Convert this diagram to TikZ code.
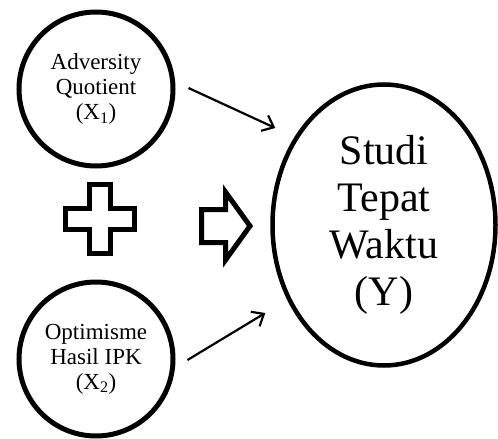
\documentclass[tikz,border=0pt]{standalone}
\usepackage{fontspec}
\setmainfont{Liberation Serif}
\usetikzlibrary{arrows.meta, positioning, shapes.geometric}

\begin{document}
\begin{tikzpicture}[x=1pt, y=-1pt,
    % independent variable circles
    varcirc/.style={circle, draw, line width=5pt, minimum size=154pt, inner sep=0pt,
        align=center, font=\fontsize{23}{25}\selectfont},
    % dependent variable ellipse
    outell/.style={ellipse, draw, line width=4.5pt, minimum width=223pt, minimum height=281pt,
        inner sep=0pt, align=center, font=\fontsize{42}{47}\selectfont},
    % thin influence arrows
    arr/.style={-{Straight Barb[length=10pt, width=17pt]}, line width=2.2pt},
    % outlined plus and block arrow
    symb/.style={draw, line width=5pt}
]
    \useasboundingbox (0,0) rectangle (498,439);

    % X1 (top-left)
    \node[varcirc] (x1) at (96,89) {Adversity\\Quotient\\(X\textsubscript{1})};
    % X2 (bottom-left)
    \node[varcirc] (x2) at (96,359) {Optimisme\\Hasil IPK\\(X\textsubscript{2})};
    % Y (right)
    \node[outell] (y) at (384,225) {Studi\\Tepat\\Waktu\\(Y)};

    % arrows X1 -> Y and X2 -> Y
    \draw[arr] ([shift={(13,-1)}]x1.east) -- ([shift={(5,-97)}]y.west);
    \draw[arr] ([shift={(12,1)}]x2.east) -- ([shift={(-5,88)}]y.west);

    % plus sign between X1 and X2
    \draw[symb, shift={(100,219)}] (-10.5,-34.5) -- (10.5,-34.5) -- (10.5,-10.5) -- (34.5,-10.5)
        -- (34.5,10.5) -- (10.5,10.5) -- (10.5,34.5) -- (-10.5,34.5) -- (-10.5,10.5)
        -- (-34.5,10.5) -- (-34.5,-10.5) -- (-10.5,-10.5) -- cycle;

    % block arrow towards Y
    \draw[symb] (201.5,209.5) -- (225.5,209.5) -- (225.5,192) -- (250,226) -- (225.5,260)
        -- (225.5,242.5) -- (201.5,242.5) -- cycle;
\end{tikzpicture}
\end{document}
